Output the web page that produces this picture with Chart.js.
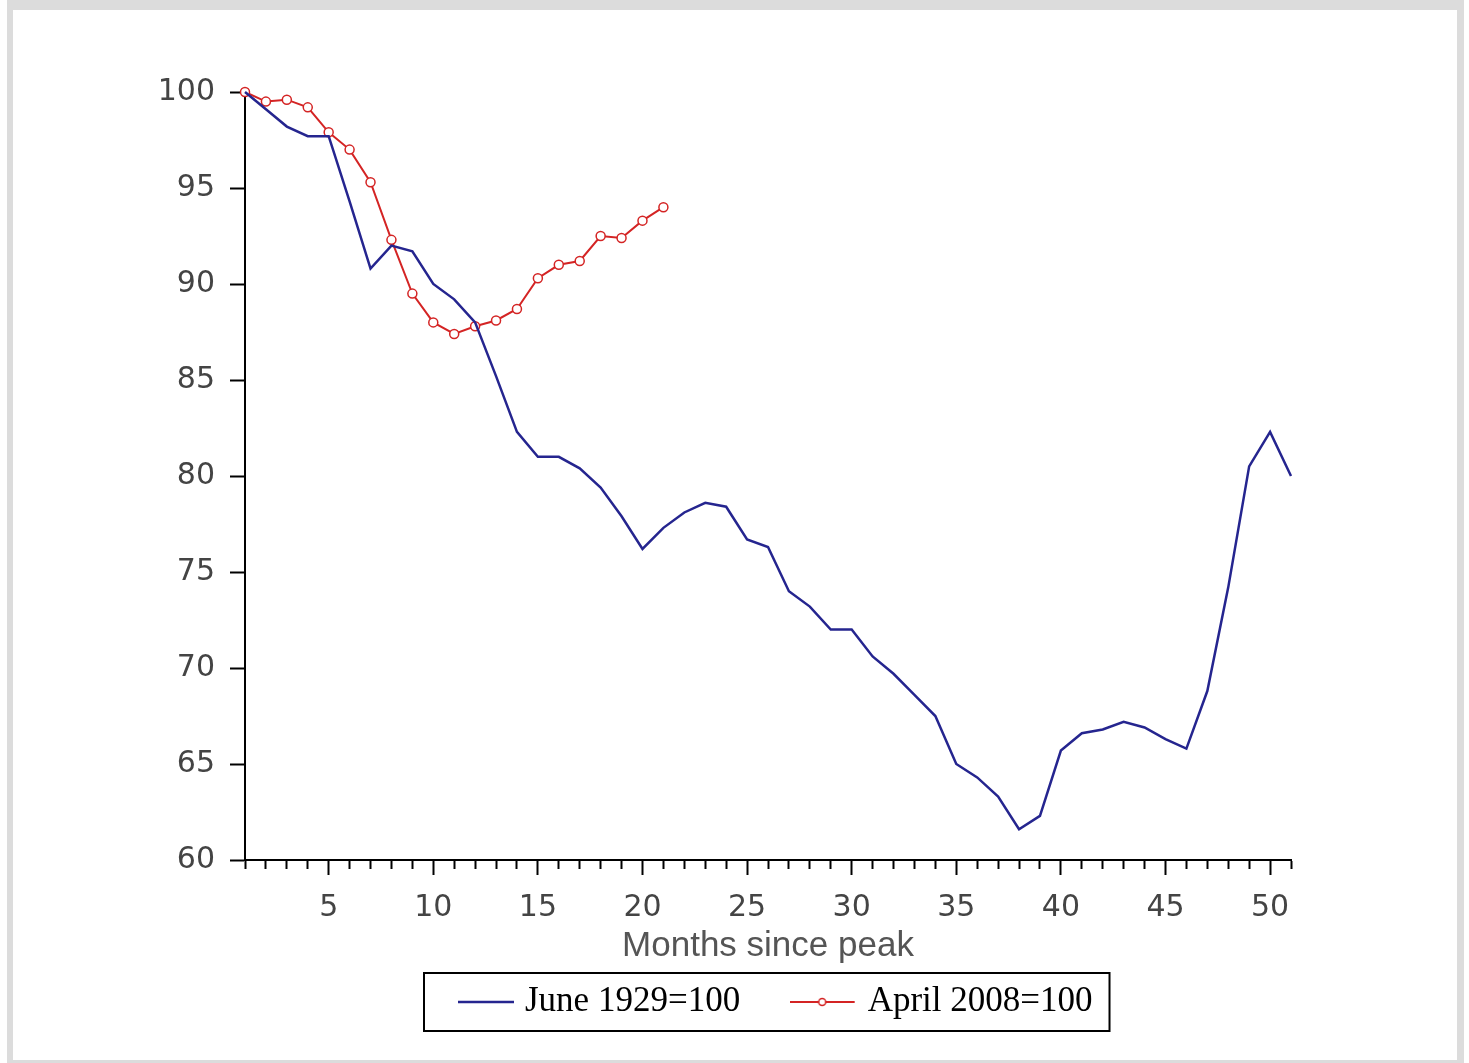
<!DOCTYPE html>
<html><head><meta charset="utf-8">
<script src="https://cdn.jsdelivr.net/npm/chart.js@4.4.1/dist/chart.umd.min.js"></script>
<style>
html,body{margin:0;padding:0;background:#fff;width:1469px;height:1063px;overflow:hidden;}
#frame{position:absolute;left:7px;top:0;width:1457px;height:1066px;box-sizing:border-box;border-style:solid;border-color:#dcdcdc;border-width:10px 7px 6px 6px;background:#fff;}
#wrap{position:absolute;left:0;top:0;width:1469px;height:1063px;}
</style></head><body>
<div id="frame"></div>
<div id="wrap"><canvas id="c" width="1469" height="1063"></canvas></div>
<script>
// ---- data ----
const months = [1,2,3,4,5,6,7,8,9,10,11,12,13,14,15,16,17,18,19,20,21,22,23,24,25,26,27,28,29,30,31,32,33,34,35,36,37,38,39,40,41,42,43,44,45,46,47,48,49,50,51];
const june1929 = [100,99.1,98.2,97.7,97.7,94.3,90.8,92.0,91.7,90.0,89.2,88.0,85.2,82.3,81.0,81.0,80.4,79.4,77.9,76.2,77.3,78.1,78.6,78.4,76.7,76.3,74.0,73.2,72.0,72.0,70.6,69.7,68.6,67.5,65.0,64.3,63.3,61.6,62.3,65.7,66.6,66.8,67.2,66.9,66.3,65.8,68.8,74.2,80.5,82.3,80.0];
const april2008 = [100,99.5,99.6,99.2,97.9,97.0,95.3,92.3,89.5,88.0,87.4,87.8,88.1,88.7,90.3,91.0,91.2,92.5,92.4,93.3,94.0];
const seriesNames = ['June 1929=100','April 2008=100'];
const xTitle = 'Months since peak';
const yMin = 60, yMax = 100, yStep = 5;
const xMin = 1, xMax = 51, xLabelEvery = 5;

const BLUE = '#25258f', RED = '#d42424';
const LEGEND_X = 463.5, LEGEND_CY = 1002;

function makeBlueIcon(){
  const c = document.createElement('canvas'); c.width = 56; c.height = 6;
  const g = c.getContext('2d'); g.strokeStyle = BLUE; g.lineWidth = 2.5;
  g.beginPath(); g.moveTo(0,3); g.lineTo(56,3); g.stroke(); return c;
}
function makeRedIcon(){
  const c = document.createElement('canvas'); c.width = 77; c.height = 12;
  const g = c.getContext('2d'); g.strokeStyle = RED; g.lineWidth = 2;
  g.beginPath(); g.moveTo(0,6); g.lineTo(65,6); g.stroke();
  g.beginPath(); g.arc(32.5,6,3.5,0,Math.PI*2); g.fillStyle='#fff'; g.fill(); g.lineWidth=1.5; g.stroke();
  return c;
}
const icons = [makeBlueIcon(), makeRedIcon()];

const legendPlacer = {
  id: 'legendPlacer',
  beforeDraw(chart){
    const lg = chart.legend; if (!lg) return;
    const P = lg.options.labels.padding, fs = lg.options.labels.font.size;
    lg.left = LEGEND_X - P; lg.right = chart.width;
    lg.top = LEGEND_CY - fs/2 - P; lg.bottom = lg.top + 200;
    lg.width = lg.right - lg.left; lg.height = 200;
  }
};
const legendFrame = {
  id: 'legendFrame',
  afterDraw(chart){
    const lg = chart.legend; if (!lg || !lg.legendItems) return;
    const ctx = chart.ctx;
    const lo = lg.options.labels;
    const fs = lo.font.size, P = lo.padding, bw = lo.pointStyleWidth;
    ctx.save();
    ctx.font = fs + 'px "' + lo.font.family + '"';
    let x = LEGEND_X;
    lg.legendItems.forEach((it, i) => {
      const w = bw + fs/2 + ctx.measureText(it.text).width;
      x += w + (i < lg.legendItems.length - 1 ? P : 0);
    });
    const l = LEGEND_X - 39.5;
    const r = x + 17;
    ctx.strokeStyle = '#000'; ctx.lineWidth = 2;
    ctx.strokeRect(l, LEGEND_CY - 29, r - l, 58);
    ctx.restore();
  }
};

new Chart(document.getElementById('c'), {
  type: 'line',
  data: {
    datasets: [
      { label: seriesNames[0], data: months.map((m,i)=>({x:m, y:june1929[i]})), borderColor: BLUE, borderWidth: 2.5, pointRadius: 0, tension: 0, fill: false, clip: 8 },
      { label: seriesNames[1], data: april2008.map((v,i)=>({x:months[i], y:v})), borderColor: RED, borderWidth: 2, pointRadius: 4.5, pointBorderWidth: 1.5, pointBackgroundColor: '#fff', pointBorderColor: RED, tension: 0, fill: false, clip: 8 }
    ]
  },
  options: {
    responsive: false, animation: false, devicePixelRatio: 1,
    layout: { padding: { left: 0, right: 178, top: 92, bottom: 89.5 } },
    plugins: {
      tooltip: { enabled: false },
      legend: {
        position: 'bottom', align: 'start', maxHeight: 1,
        labels: {
          usePointStyle: true, pointStyleWidth: 44, padding: 66, color: '#000',
          font: { family: 'Liberation Serif', size: 35 },
          generateLabels: (chart) => chart.data.datasets.map((ds,i)=>({
            text: ds.label, pointStyle: icons[i], fillStyle: 'rgba(0,0,0,0)', strokeStyle: 'rgba(0,0,0,0)',
            lineWidth: 0, hidden: false, datasetIndex: i, fontColor: '#000'
          }))
        }
      }
    },
    scales: {
      x: {
        type: 'linear', min: xMin, max: xMax,
        border: { color: '#000', width: 2 },
        grid: { drawOnChartArea: false, drawTicks: true, tickLength: 15, tickWidth: 2, tickColor: '#000',
          tickBorderDash: (c) => (c.tick && c.tick.value % xLabelEvery === 0) ? [] : [8, 40] },
        ticks: { stepSize: 1, autoSkip: false, maxRotation: 0, padding: 15, color: '#444',
          font: { family: 'DejaVu Sans', size: 30 },
          callback: (v) => (v % xLabelEvery === 0 ? String(v) : '') },
        title: { display: true, text: xTitle, color: '#555', font: { family: 'Liberation Sans', size: 35 }, padding: { top: 0, bottom: 5.5 } },
        afterFit: (s) => { s.height = 112.5; }
      },
      y: {
        min: yMin, max: yMax,
        border: { color: '#000', width: 2 },
        grid: { drawOnChartArea: false, drawTicks: true, tickLength: 15, tickWidth: 2, tickColor: '#000' },
        ticks: { stepSize: yStep, padding: 15, color: '#444', font: { family: 'DejaVu Sans', size: 30 } },
        afterFit: (s) => { s.width = 245; }
      }
    }
  },
  plugins: [legendPlacer, legendFrame]
});
</script></body></html>
